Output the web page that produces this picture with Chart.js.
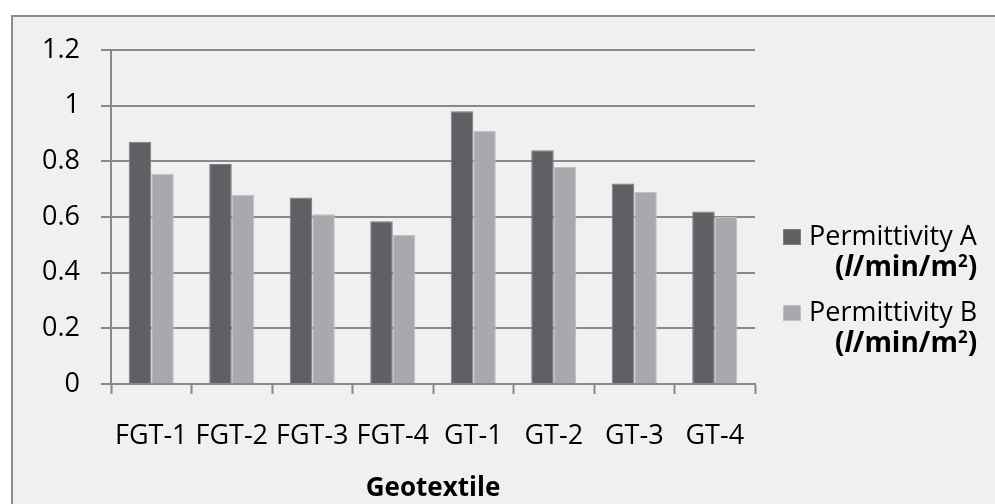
<!DOCTYPE html>
<html>
<head>
<meta charset="utf-8">
<script src="https://cdn.jsdelivr.net/npm/chart.js@4.4.1/dist/chart.umd.min.js"></script>
<style>
  body { margin: 0; background: #ffffff; font-family: "Open Sans", sans-serif; }
  #frame {
    position: absolute; left: 11px; top: 15px; width: 1000px; height: 500px;
    background: #eff0ef; border: 2px solid #8c8c8c; box-sizing: border-box;
  }
  #permChart { position: absolute; left: 0; top: 0; }
  .key { position: absolute; color: #000; font-size: 27px; line-height: 30px; white-space: nowrap; }
  .key.unit { font-weight: bold; font-size: 28px; }
  .key sup { font-size: 17px; vertical-align: 9px; line-height: 0; }
  .swatch { position: absolute; width: 18px; height: 16px; }
</style>
</head>
<body>
<div id="frame"></div>
<canvas id="permChart" width="995" height="504"></canvas>
<div id="legend"></div>

<script>
/* --------------- Geotextile Permittivity Data --------------------- */
const geotextiles = ["FGT-1", "FGT-2", "FGT-3", "FGT-4", "GT-1", "GT-2", "GT-3", "GT-4"];
const permittivityA = [0.87, 0.79, 0.67, 0.585, 0.98, 0.84, 0.72, 0.62];
const permittivityB = [0.755, 0.68, 0.61, 0.535, 0.91, 0.78, 0.69, 0.60];
const seriesNames = ["Permittivity A", "Permittivity B"];
const yTickLabels = ["0", "0.2", "0.4", "0.6", "0.8", "1", "1.2"];
const seriesColors = ["#5f6064", "#a8a9ad"];
const seriesEdges = ["#7c7d81", "#c0c1c4"];

const gridColor = "#89898b";
const tickFont = { family: "'Open Sans', sans-serif", size: 27 };

/* --------------- Chart --------------------- */
let permChart = new Chart(document.getElementById("permChart"), {
  type: "bar",
  data: {
    labels: geotextiles,
    datasets: [
      {
        label: seriesNames[0],
        data: permittivityA,
        backgroundColor: seriesColors[0],
        borderColor: seriesEdges[0],
        borderWidth: 1,
      },
      {
        label: seriesNames[1],
        data: permittivityB,
        backgroundColor: seriesColors[1],
        borderColor: seriesEdges[1],
        borderWidth: 1,
      },
    ],
  },
  options: {
    responsive: false,
    devicePixelRatio: 1,
    animation: false,
    layout: { padding: { left: 0, top: 50, right: 240, bottom: 0 } },
    datasets: { bar: { categoryPercentage: 0.56, barPercentage: 1.0 } },
    plugins: {
      legend: { display: false },
      tooltip: { enabled: false },
    },
    scales: {
      x: {
        afterFit: (scale) => { scale.height = 120; },
        grid: {
          offset: true,
          drawOnChartArea: false,
          drawTicks: true,
          tickLength: 10,
          tickWidth: 2,
          tickColor: gridColor,
        },
        border: { display: true, color: gridColor, width: 2 },
        ticks: { color: "#000", font: tickFont, padding: 26, maxRotation: 0, autoSkip: false },
        title: {
          display: true,
          text: "Geotextile",
          color: "#000",
          font: { family: "'Open Sans', sans-serif", size: 26, weight: "bold" },
          padding: { top: 4, bottom: 0 },
        },
      },
      y: {
        min: 0,
        max: 1.2,
        afterFit: (scale) => { scale.width = 111; },
        grid: {
          color: gridColor,
          lineWidth: 2,
          tickLength: 10,
          tickColor: gridColor,
        },
        border: { display: true, color: gridColor, width: 2 },
        ticks: {
          stepSize: 0.2,
          color: "#000",
          font: tickFont,
          padding: 21,
          callback: (value, index) => yTickLabels[index],
        },
      },
    },
  },
});

/* --------------- Legend (two-line labels with units) --------------------- */
const legendBox = document.getElementById("legend");
const legendTops = [220, 296];
permChart.data.datasets.forEach((ds, i) => {
  const top = legendTops[i];
  legendBox.insertAdjacentHTML("beforeend",
    `<div class="swatch" style="left:783px;top:${top + 9}px;background:${ds.backgroundColor};border:1px solid ${ds.borderColor};box-sizing:border-box"></div>` +
    `<div class="key" style="left:809px;top:${top}px">${ds.label}</div>` +
    `<div class="key unit" style="left:835px;top:${top + 30}px">(<i>l</i>/min/m<sup>2</sup>)</div>`
  );
});
</script>
</body>
</html>
